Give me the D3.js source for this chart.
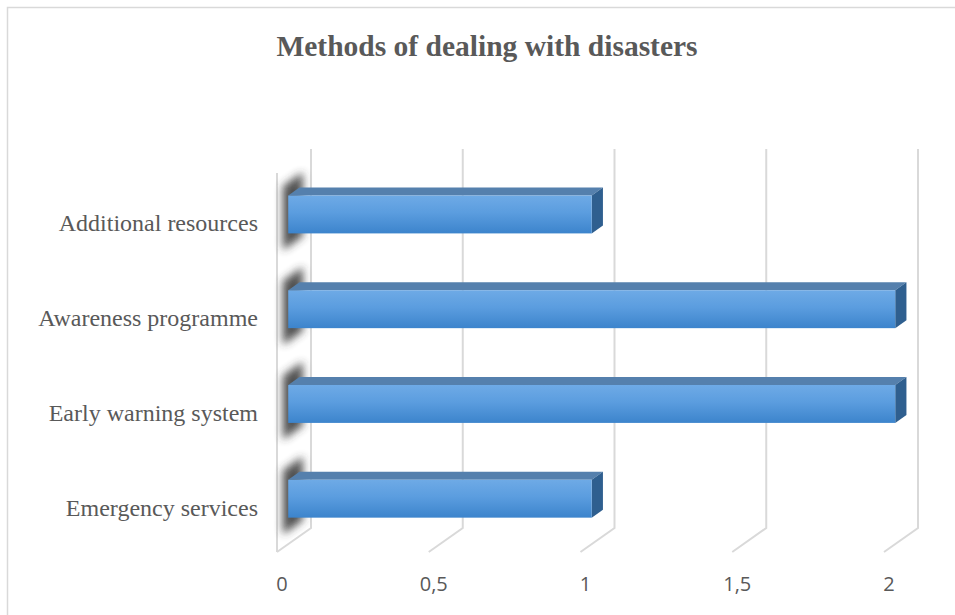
<!DOCTYPE html>
<html><head><meta charset="utf-8">
<script src="https://cdn.jsdelivr.net/npm/d3@7"></script>
<style>body{margin:0;background:#fff} svg{display:block}</style>
</head><body><svg id="chart" width="955" height="615"></svg>
<script>
// Chart data
const categories = ["Additional resources", "Awareness programme", "Early warning system", "Emergency services"];
const values = [1, 2, 2, 1];
const tickValues = [0, 0.5, 1, 1.5, 2];
const tickLabels = ["0", "0,5", "1", "1,5", "2"];
const chartTitle = "Methods of dealing with disasters";

const svg = d3.select("#chart");
const textColor = "#595959";
const gridColor = "#d9d9d9";

// Front-plane scales; depth is an oblique offset toward the back wall
const x = d3.scaleLinear().domain([0, 2]).range([277, 884]);
const y = d3.scaleBand().domain(categories).range([175, 554]).paddingInner(0.6).paddingOuter(0.3);
const depth = [34, -24];
const wallTop = 173, floorFront = 552;
const proj = (v, yy, t) => [x(v) + t * depth[0], yy + t * depth[1]];
const barT0 = 0.33, barT1 = 0.66;

const defs = svg.append("defs");
const grad = defs.append("linearGradient").attr("id", "barFront")
  .attr("x1", 0).attr("y1", 0).attr("x2", 0).attr("y2", 1);
grad.append("stop").attr("offset", "0%").attr("stop-color", "#6eaae6");
grad.append("stop").attr("offset", "45%").attr("stop-color", "#5b9ddf");
grad.append("stop").attr("offset", "100%").attr("stop-color", "#3c84cc");
defs.append("filter").attr("id", "soft").attr("x", "-50%").attr("y", "-50%").attr("width", "200%").attr("height", "200%")
  .append("feGaussianBlur").attr("stdDeviation", 4);

// Chart border
svg.append("rect").attr("x", 7.5).attr("y", 7.5).attr("width", 980).attr("height", 640)
  .attr("fill", "none").attr("stroke", gridColor).attr("stroke-width", 1.5);

// Title
svg.append("text").attr("x", 487).attr("y", 56).attr("text-anchor", "middle")
  .attr("font-family", "'Liberation Serif', 'Times New Roman', serif").attr("font-weight", "bold")
  .attr("font-size", 29.5).attr("fill", textColor).text(chartTitle);

const line = d3.line();
const grid = svg.append("g").attr("stroke", gridColor).attr("stroke-width", 2).attr("fill", "none");
// Back-wall gridlines and floor lines
tickValues.forEach(v => {
  grid.append("path").attr("d", line([proj(v, wallTop, 1), proj(v, floorFront, 1), proj(v, floorFront, 0)]));
});
// Front edge of the side wall
grid.append("path").attr("d", line([proj(0, wallTop, 0), proj(0, floorFront, 0)]));

// Soft shadows cast on the side wall
svg.append("g").selectAll("path").data(categories).join("path")
  .attr("d", c => {
    const t0 = y(c) - 13, b0 = y(c) + y.bandwidth() + 13;
    return line([proj(0, t0, 0.17), proj(0, t0, 0.76), proj(0, b0, 0.76), proj(0, b0, 0.17)]) + "Z";
  })
  .attr("fill", "#333").attr("opacity", 0.85).attr("filter", "url(#soft)");

// 3D bars
const bars = svg.append("g").selectAll("g").data(categories.map((c, i) => ({c, v: values[i]}))).join("g");
bars.append("path").attr("fill", "#5580ad")
  .attr("d", d => line([proj(0, y(d.c), barT0), proj(d.v, y(d.c), barT0), proj(d.v, y(d.c), barT1), proj(0, y(d.c), barT1)]) + "Z");
bars.append("path").attr("fill", "#2f5f8f")
  .attr("d", d => {
    const yt = y(d.c), yb = y(d.c) + y.bandwidth();
    return line([proj(d.v, yt, barT0), proj(d.v, yt, barT1), proj(d.v, yb, barT1), proj(d.v, yb, barT0)]) + "Z";
  });
bars.append("rect").attr("fill", "url(#barFront)")
  .attr("x", d => proj(0, 0, barT0)[0])
  .attr("y", d => proj(0, y(d.c), barT0)[1])
  .attr("width", d => x(d.v) - x(0))
  .attr("height", y.bandwidth());

// Category labels
svg.append("g").selectAll("text").data(categories).join("text")
  .attr("x", 258).attr("y", c => y(c) + y.bandwidth() / 2 + 9)
  .attr("text-anchor", "end")
  .attr("font-family", "'Liberation Serif', 'Times New Roman', serif").attr("font-size", 24)
  .attr("fill", textColor).text(c => c);

// Value tick labels
svg.append("g").selectAll("text").data(tickValues).join("text")
  .attr("x", v => x(v) + 5).attr("y", 591).attr("text-anchor", "middle")
  .attr("font-family", "'Open Sans', sans-serif").attr("font-size", 20)
  .attr("fill", textColor).text((v, i) => tickLabels[i]);
</script></body></html>
